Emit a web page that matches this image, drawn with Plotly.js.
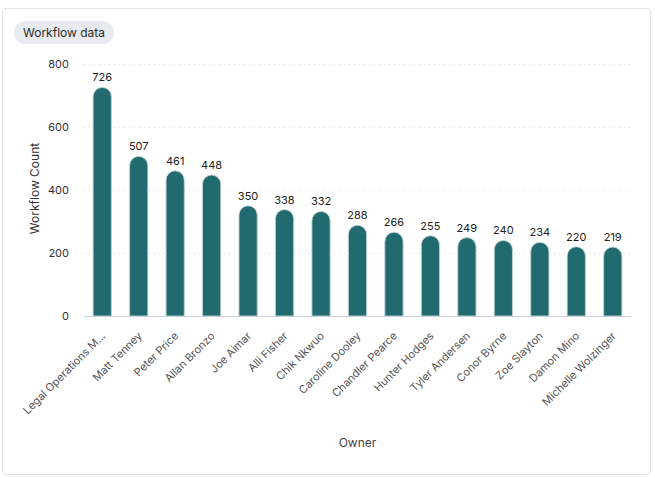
<!DOCTYPE html>
<html>
<head>
<meta charset="utf-8">
<script src="https://cdn.plot.ly/plotly-3.0.1.min.js"></script>
<style>
  html, body { margin:0; padding:0; background:#fff; }
  body { width:655px; height:478px; position:relative; overflow:hidden; font-family:Inter, "Noto Sans", sans-serif; }
  #card { position:absolute; left:2px; top:8px; width:649px; height:467px; border:1px solid #e2e3e8; border-radius:4px; box-sizing:border-box; }
  #pill { position:absolute; left:14px; top:21px; height:23px; line-height:23px; padding:0 9px; background:#e9eaef; border-radius:12px; font-size:12px; color:#2b2b2b; }
  #chartdiv { position:absolute; left:0; top:0; width:655px; height:478px; }
</style>
</head>
<body>
<div id="card"></div>
<div id="chartdiv"></div>
<div id="pill">Workflow data</div>
<script>
const owners = ['Legal Operations M...', 'Matt Tenney', 'Peter Price', 'Allan Bronzo', 'Joe Aimar',
  'Alli Fisher', 'Chik Nkwuo', 'Caroline Dooley', 'Chandler Pearce', 'Hunter Hodges',
  'Tyler Andersen', 'Conor Byrne', 'Zoe Slayton', 'Damon Mino', 'Michelle Wolzinger'];
const workflowCounts = [726, 507, 461, 448, 350, 338, 332, 288, 266, 255, 249, 240, 234, 220, 219];
const yTicks = [0, 200, 400, 600, 800];

const barColor = '#216b70';

const data = [{
  type: 'bar',
  x: owners,
  y: workflowCounts,
  text: workflowCounts.map(String),
  textposition: 'outside',
  constraintext: 'none',
  textfont: {size: 11, color: '#222'},
  cliponaxis: false,
  width: 0.5,
  marker: {color: barColor, cornerradius: '50%', line: {color: 'rgba(190,208,210,0.9)', width: 1}},
  hoverinfo: 'none'
}];

const layout = {
  width: 655,
  height: 478,
  margin: {l: 84, r: 24, t: 61, b: 162},
  paper_bgcolor: 'rgba(0,0,0,0)',
  plot_bgcolor: 'rgba(0,0,0,0)',
  font: {family: 'Inter, "Noto Sans", sans-serif', size: 11, color: '#333'},
  showlegend: false,
  xaxis: {
    type: 'category',
    tickangle: -45,
    ticks: '',
    ticklabelstandoff: 8,
    tickfont: {size: 11, color: '#555'},
    showgrid: false,
    showline: true,
    linecolor: '#c9cfdc',
    linewidth: 1,
    automargin: false,
    title: {text: 'Owner', font: {size: 12, color: '#444'}, standoff: 22}
  },
  yaxis: {
    range: [0, 810],
    tickvals: yTicks,
    ticks: '',
    ticklabelstandoff: 14,
    tickfont: {size: 11, color: '#333'},
    showgrid: true,
    gridcolor: '#d4d6db',
    griddash: '1px,4px',
    gridwidth: 1,
    zeroline: false,
    showline: false,
    automargin: false,
    title: {text: 'Workflow Count', font: {size: 12, color: '#333'}, standoff: 5}
  }
};

Plotly.newPlot('chartdiv', data, layout, {displayModeBar: false, staticPlot: true});
</script>
</body>
</html>
